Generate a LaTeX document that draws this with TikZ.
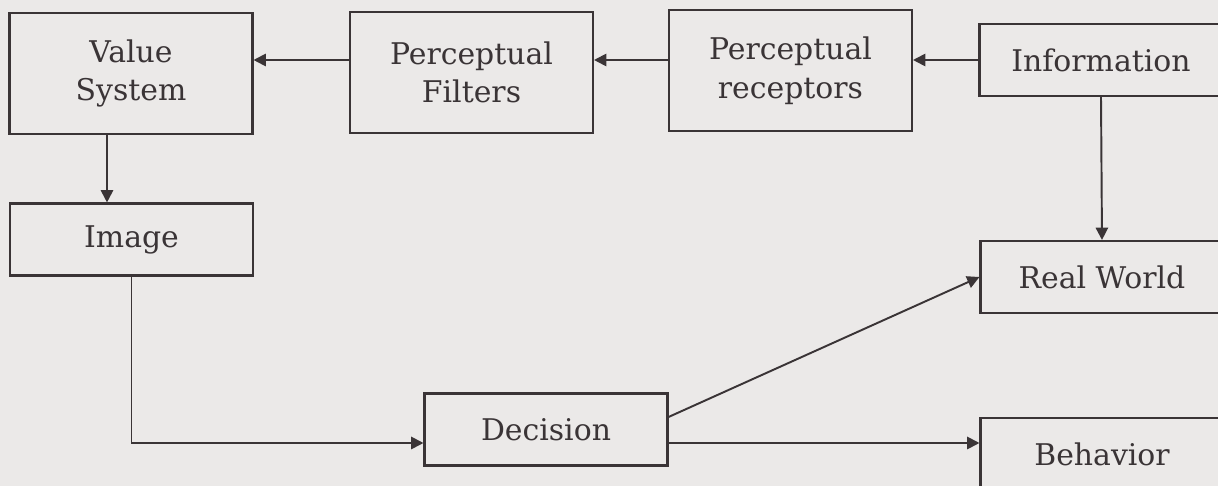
\documentclass[tikz,border=0pt]{standalone}
\usepackage{fontspec}
\setmainfont{DejaVu Serif}
\usepackage{tikz}
\usetikzlibrary{arrows.meta,positioning}
\definecolor{paper}{HTML}{EBE9E8}
\definecolor{ink}{HTML}{3A3436}
\tikzset{block/.style = {draw=ink, line width=1.2pt, text=ink, align=center, minimum width=4.86cm, minimum height=1.44cm, inner sep=2pt, font=\fontsize{17}{22}\selectfont}}
\tikzset{tallblock/.style = {block, minimum height=2.42cm}}
\tikzset{arrow/.style={draw=ink, line width=1.1pt, -{Triangle[length=7pt,width=7pt]}}}

\begin{document}
\begin{tikzpicture}[x=0.02cm,y=-0.02cm]

\fill[paper] (0,0) rectangle (1218,486);
\clip (0,0) rectangle (1218,486);

% top row
\node[tallblock] (value) at (131,73.5) {Value\\System};
\node[tallblock] (filters) at (471.5,72.5) {Perceptual\\Filters};
\node[tallblock] (receptors) at (790.5,70.5) {Perceptual\\receptors};
\node[block] (info) at (1101,60) {Information};

% lower part
\node[block] (image) at (131.5,239.5) {Image};
\node[block] (realworld) at (1102,277) {Real World};
\node[block] (decision) at (546,429.5) {Decision};
\node[block] (behavior) at (1102,454) {Behavior};

\draw[arrow] (info.west) -- (info.west -| receptors.east);
\draw[arrow] (receptors.west |- info.west) -- (filters.east |- info.west);
\draw[arrow] (filters.west |- info.west) -- (value.east |- info.west);

\draw[arrow] ([xshift=-0.48cm]value.south) -- ([xshift=-0.48cm]value.south |- image.north);
\draw[arrow] (image.south) |- ([yshift=-0.27cm]decision.west);

\draw[arrow] (info.south) -- (realworld.north);
\draw[arrow] ([yshift=0.25cm]decision.east) -- (realworld.west);
\draw[arrow] ([yshift=-0.27cm]decision.east) -- ([yshift=-0.27cm]decision.east -| behavior.west);
\end{tikzpicture}
\end{document}
